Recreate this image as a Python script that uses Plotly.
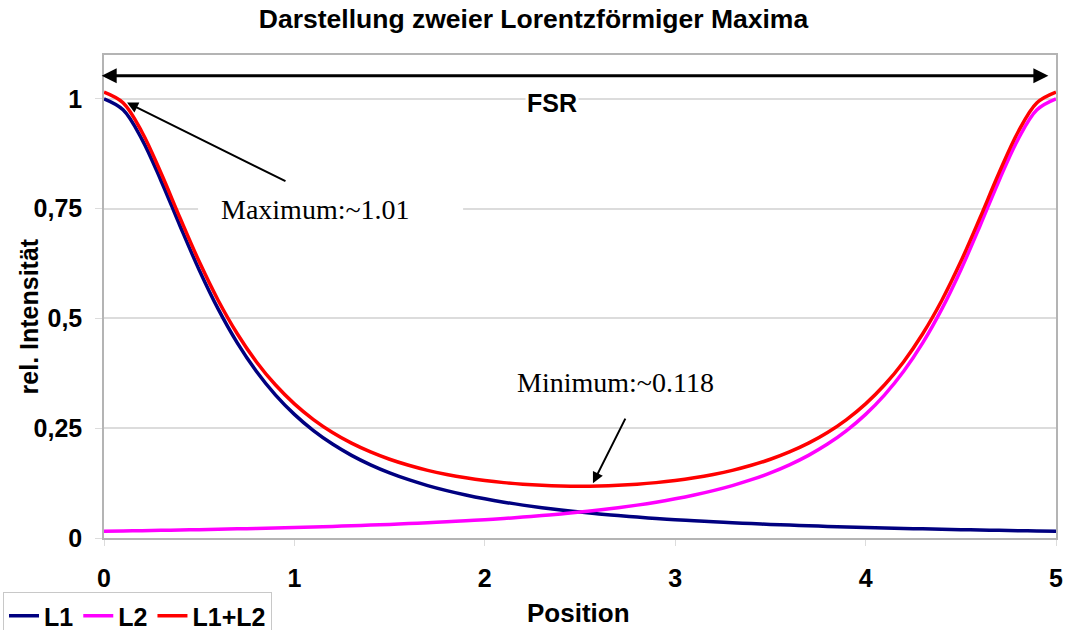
import plotly.graph_objects as go

# Positions along the free spectral range
position = [0.0, 0.1, 0.2, 0.3, 0.4, 0.5, 0.6, 0.7, 0.8, 0.9,
            1.0, 1.1, 1.2, 1.3, 1.4, 1.5, 1.6, 1.7, 1.8, 1.9,
            2.0, 2.1, 2.2, 2.3, 2.4, 2.5, 2.6, 2.7, 2.8, 2.9,
            3.0, 3.1, 3.2, 3.3, 3.4, 3.5, 3.6, 3.7, 3.8, 3.9,
            4.0, 4.1, 4.2, 4.3, 4.4, 4.5, 4.6, 4.7, 4.8, 4.9, 5.0]

# Lorentz peak at position 0
l1 = [1.0000, 0.9751, 0.9074, 0.8132, 0.7100, 0.6105, 0.5212, 0.4444, 0.3798, 0.3261,
      0.2816, 0.2446, 0.2139, 0.1882, 0.1666, 0.1483, 0.1328, 0.1194, 0.1079, 0.0979,
      0.0892, 0.0816, 0.0749, 0.0690, 0.0637, 0.0590, 0.0548, 0.0510, 0.0476, 0.0445,
      0.0417, 0.0392, 0.0369, 0.0347, 0.0328, 0.0310, 0.0294, 0.0278, 0.0264, 0.0251,
      0.0239, 0.0228, 0.0217, 0.0208, 0.0198, 0.0190, 0.0182, 0.0174, 0.0167, 0.0161, 0.0154]

# Lorentz peak at position 5
l2 = [0.0154, 0.0161, 0.0167, 0.0174, 0.0182, 0.0190, 0.0198, 0.0208, 0.0217, 0.0228,
      0.0239, 0.0251, 0.0264, 0.0278, 0.0294, 0.0310, 0.0328, 0.0347, 0.0369, 0.0392,
      0.0417, 0.0445, 0.0476, 0.0510, 0.0548, 0.0590, 0.0637, 0.0690, 0.0749, 0.0816,
      0.0892, 0.0979, 0.1079, 0.1194, 0.1328, 0.1483, 0.1666, 0.1882, 0.2139, 0.2446,
      0.2816, 0.3261, 0.3798, 0.4444, 0.5212, 0.6105, 0.7100, 0.8132, 0.9074, 0.9751, 1.0000]

# Superposition of both peaks
l_sum = [1.0154, 0.9912, 0.9241, 0.8306, 0.7282, 0.6295, 0.5410, 0.4652, 0.4015, 0.3489,
         0.3055, 0.2697, 0.2403, 0.2160, 0.1960, 0.1793, 0.1656, 0.1541, 0.1448, 0.1371,
         0.1309, 0.1261, 0.1225, 0.1200, 0.1185, 0.1180, 0.1185, 0.1200, 0.1225, 0.1261,
         0.1309, 0.1371, 0.1448, 0.1541, 0.1656, 0.1793, 0.1960, 0.2160, 0.2403, 0.2697,
         0.3055, 0.3489, 0.4015, 0.4652, 0.5410, 0.6295, 0.7282, 0.8306, 0.9241, 0.9912, 1.0154]

x_ticks = [0, 1, 2, 3, 4, 5]
y_ticks = [0, 0.25, 0.5, 0.75, 1]
y_tick_text = ["0", "0,25", "0,5", "0,75", "1"]

SANS = "Liberation Sans, Arial, sans-serif"
SERIF = "Liberation Serif, Times New Roman, serif"
GRID = "#dcdcdc"
FRAME = "#b4b4b4"

fig = go.Figure()
fig.add_trace(go.Scatter(x=position, y=l1, mode="lines", name="L1",
                         line=dict(color="#000080", width=3.5, shape="spline")))
fig.add_trace(go.Scatter(x=position, y=l2, mode="lines", name="L2",
                         line=dict(color="#ff00ff", width=3.5, shape="spline")))
fig.add_trace(go.Scatter(x=position, y=l_sum, mode="lines", name="L1+L2",
                         line=dict(color="#ff0000", width=3.5, shape="spline")))

fig.update_layout(
    width=1067, height=630,
    margin=dict(l=104, r=11, t=55, b=92, autoexpand=False),
    paper_bgcolor="white", plot_bgcolor="white",
    font=dict(family=SANS, size=24, color="black", weight="bold"),
    separators=",.",
    title=dict(text="Darstellung zweier Lorentzförmiger Maxima",
               x=0.5, xref="container", xanchor="center",
               y=1 - 19 / 630, yref="container", yanchor="middle",
               font=dict(family=SANS, size=26.5, weight="bold")),
    showlegend=True,
    legend=dict(orientation="h", xref="container", yref="container",
                x=3 / 1067, xanchor="left", y=1 - 592 / 630, yanchor="top",
                bgcolor="white", bordercolor="#c8c8c8", borderwidth=1,
                font=dict(family=SANS, size=25, weight="bold"),
                itemwidth=30, tracegroupgap=0),
)

fig.update_xaxes(range=[0, 5], tickvals=x_ticks, showgrid=False, zeroline=False,
                 showline=True, linecolor=FRAME, linewidth=1.5, mirror=True,
                 ticks="outside", ticklen=6, tickcolor=GRID, ticklabelstandoff=11,
                 automargin=False,
                 tickfont=dict(family=SANS, size=25, weight="bold"))
fig.update_yaxes(range=[0, 1.1], tickvals=y_ticks, ticktext=y_tick_text,
                 showgrid=True, gridcolor=GRID, gridwidth=1.5, zeroline=False,
                 showline=True, linecolor=FRAME, linewidth=1.5, mirror=True,
                 ticks="outside", ticklen=7, tickcolor=GRID, ticklabelstandoff=8,
                 automargin=False,
                 tickfont=dict(family=SANS, size=25, weight="bold"))

# Axis titles placed explicitly
fig.add_annotation(text="Position", xref="paper", yref="paper",
                   x=0.4984, y=-0.156, xanchor="center", yanchor="middle",
                   showarrow=False, font=dict(family=SANS, size=26, weight="bold"))
fig.add_annotation(text="rel. Intensität", xref="paper", yref="paper",
                   x=-0.0788, y=0.4587, xanchor="center", yanchor="middle",
                   textangle=-90, showarrow=False,
                   font=dict(family=SANS, size=25, weight="bold"))

# Free spectral range: double-headed arrow across the full period
fig.add_annotation(x=4.96, y=1.053, ax=-0.02, ay=1.053,
                   xref="x", yref="y", axref="x", ayref="y",
                   text="", showarrow=True, arrowhead=2, arrowside="end+start",
                   arrowsize=1, arrowwidth=3, arrowcolor="black")
fig.add_annotation(x=2.353, y=0.990, xref="x", yref="y", text="FSR",
                   showarrow=False, bgcolor="white", borderpad=1,
                   font=dict(family=SANS, size=25, weight="bold"))

# Maximum marker: white label box, arrow and text
fig.add_shape(type="rect", xref="x", yref="y", x0=0.494, x1=1.886, y0=0.684, y1=0.811,
              fillcolor="white", line=dict(width=0), layer="above")
fig.add_annotation(x=0.121, y=0.9916, ax=0.961, ay=0.811,
                   xref="x", yref="y", axref="x", ayref="y",
                   text="", showarrow=True, arrowhead=2, arrowsize=1.1,
                   arrowwidth=2, arrowcolor="black")
fig.add_annotation(x=1.111, y=0.7475, xref="x", yref="y", text="Maximum:~1.01",
                   showarrow=False,
                   font=dict(family=SERIF, size=28, color="black", weight="normal"))

# Minimum marker
fig.add_annotation(x=2.568, y=0.1248, ax=2.742, ay=0.2753,
                   xref="x", yref="y", axref="x", ayref="y",
                   text="", showarrow=True, arrowhead=2, arrowsize=1.1,
                   arrowwidth=2, arrowcolor="black")
fig.add_annotation(x=2.689, y=0.354, xref="x", yref="y", text="Minimum:~0.118",
                   showarrow=False,
                   font=dict(family=SERIF, size=28, color="black", weight="normal"))

fig.write_html("out.html")
